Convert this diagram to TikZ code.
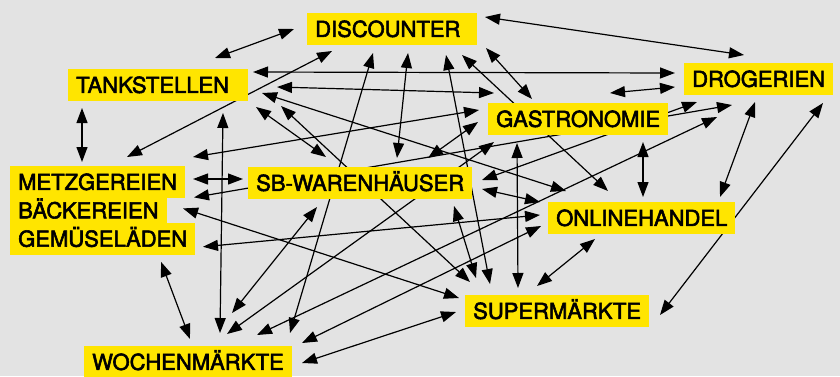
\documentclass[tikz,border=0pt]{standalone}
\usepackage{fontspec}
\setmainfont{TeX Gyre Heros}[FakeBold=2.5]
\usetikzlibrary{arrows.meta, positioning, backgrounds}
\definecolor{signal}{HTML}{FFE500}
\definecolor{paper}{HTML}{E3E3E3}

\begin{document}
\begin{tikzpicture}[x=1pt,y=-1pt,
  sector/.style={fill=signal, anchor=west, inner xsep=8pt, inner ysep=0pt,
    minimum height=32pt, text height=15.8pt, text depth=0pt,
    font=\fontsize{22}{26}\selectfont},
  link/.style={<->, >={Triangle[length=15pt,width=11pt]}, line width=1.2pt}]
\useasboundingbox (0,0) rectangle (840,376);
  \node[sector] (disc)   at (307,29) [text width=154pt] {DISCOUNTER};
  \node[sector] (tank)   at (68,85)  [text width=164pt] {TANKSTELLEN};
  \node[sector] (drog)   at (684,79)  {DROGERIEN};
  \node[sector] (gastro) at (488,119) {GASTRONOMIE};
  \node[sector] (metz)   at (10,182)  {METZGEREIEN};
  \node[sector] (baeck)  [below=-4pt of metz.south west, anchor=north west]  {BÄCKEREIEN};
  \node[sector] (gem)    [below=-4pt of baeck.south west, anchor=north west] {GEMÜSELÄDEN};
  \node[sector] (sb)     at (248,183) {SB-WARENHÄUSER};
  \node[sector] (online) at (548,218) {ONLINEHANDEL};
  \node[sector] (super)  at (465,311) {SUPERMÄRKTE};
  \node[sector] (wochen) at (84,362)  {WOCHENMÄRKTE};
\begin{scope}[on background layer]
\fill[paper] (0,0) rectangle (840,376);
\path ([shift={(147,-27)}]tank.west)   edge[link] ([shift={(-13,0)}]disc.west)
      ([shift={(178,-12)}]disc.west)   edge[link] ([shift={(60,-24)}]drog.west)
      ([shift={(117,-25)}]metz.west)   edge[link] ([shift={(25,22)}]disc.west)
      ([shift={(185,-13)}]tank.west)   edge[link] ([shift={(-9,-6)}]drog.west)
      ([shift={(209,2)}]tank.west)     edge[link] ([shift={(6,-26)}]gastro.west)
      ([shift={(194,8)}]tank.west)     edge[link] ([shift={(18,-27)}]online.west)
      ([shift={(188,22)}]tank.west)    edge[link] ([shift={(78,-26)}]sb.west)
      ([shift={(213,21)}]tank.west)    edge[link] ([shift={(5,-29)}]super.west)
      ([shift={(14,23)}]tank.west)     edge[link] ([shift={(72,-20)}]metz.west)
      ([shift={(155,28)}]tank.west)    edge[link] ([shift={(136,-29)}]wochen.west)
      ([shift={(179,19)}]disc.west)    edge[link] ([shift={(44,-20)}]gastro.west)
      ([shift={(155,26)}]disc.west)    edge[link] ([shift={(60,-27)}]online.west)
      ([shift={(101,24)}]disc.west)    edge[link] ([shift={(149,-25)}]sb.west)
      ([shift={(66,24)}]disc.west)     edge[link] ([shift={(206,-29)}]wochen.west)
      ([shift={(139,26)}]disc.west)    edge[link] ([shift={(25,-27)}]super.west);
% Metzgereien, Baeckereien, Gemueselaeden
\path ([shift={(183,-25)}]metz.west)   edge[link] ([shift={(-9,-9)}]gastro.west)
      ([shift={(183,-3)}]metz.west)    edge[link] ([shift={(-5,-4)}]sb.west)
      ([shift={(184,-13)}]baeck.west)  edge[link] ([shift={(48,26)}]drog.west)
      ([shift={(193,8)}]gem.west)      edge[link] ([shift={(-8,-3)}]online.west)
      ([shift={(151,23)}]gem.west)     edge[link] ([shift={(106,-23)}]wochen.west)
      ([shift={(173,-2)}]baeck.west)   edge[link] ([shift={(-6,-13)}]super.west);
% SB-Warenhaeuser
\path ([shift={(180,-25)}]sb.west)     edge[link] ([shift={(-10,3)}]gastro.west)
      ([shift={(234,-3)}]sb.west)      edge[link] ([shift={(13,23)}]drog.west)
      ([shift={(234,6)}]sb.west)       edge[link] ([shift={(-8,-16)}]online.west)
      ([shift={(206,23)}]sb.west)      edge[link] ([shift={(11,-33)}]super.west)
      ([shift={(69,24)}]sb.west)       edge[link] ([shift={(148,-49)}]wochen.west);
% Gastronomie, Drogerien
\path ([shift={(155,23)}]gastro.west)  edge[link] ([shift={(95,-21)}]online.west)
      ([shift={(29,24)}]gastro.west)   edge[link] ([shift={(53,-23)}]super.west)
      ([shift={(6,23)}]gastro.west)    edge[link] ([shift={(143,-28)}]wochen.west)
      ([shift={(122,-26)}]gastro.west) edge[link] ([shift={(-9,8)}]drog.west)
      ([shift={(71,23)}]drog.west)     edge[link] ([shift={(172,-21)}]online.west)
      ([shift={(139,24)}]drog.west)    edge[link] ([shift={(195,4)}]super.west)
      ([shift={(33,38)}]drog.west)     edge[link] ([shift={(173,-27)}]wochen.west);
% Onlinehandel, Supermaerkte
\path ([shift={(47,21)}]online.west)   edge[link] ([shift={(72,-25)}]super.west)
      ([shift={(-7,8)}]online.west)    edge[link] ([shift={(218,-19)}]wochen.west)
      ([shift={(-9,1)}]super.west)     edge[link] ([shift={(218,1)}]wochen.west);
\end{scope}
\end{tikzpicture}
\end{document}
